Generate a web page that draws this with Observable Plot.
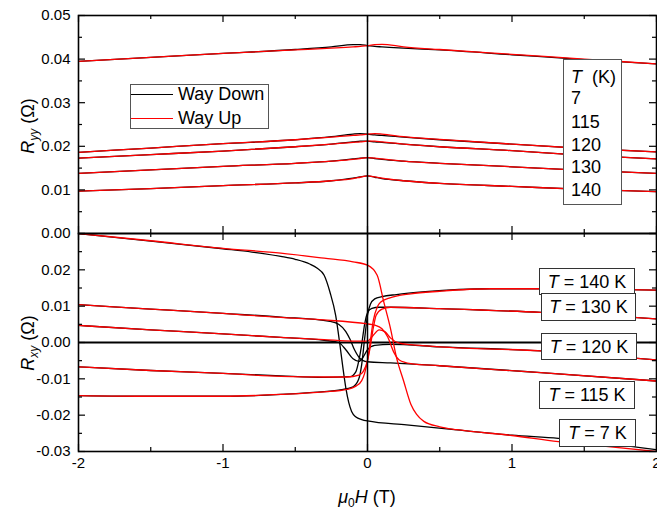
<!DOCTYPE html>
<html><head><meta charset="utf-8">
<script src="https://cdn.jsdelivr.net/npm/d3@7"></script>
<script src="https://cdn.jsdelivr.net/npm/@observablehq/plot@0.6"></script>
<style>
body{margin:0;background:#fff;}
#wrap{position:relative;width:657px;height:511px;overflow:hidden;font-family:"Liberation Sans",Arial,sans-serif;color:#000;background:#fff;}
#wrap svg{position:absolute;left:0;}
.box{position:absolute;background:#fff;box-sizing:border-box;}
.t{position:absolute;font-size:18px;line-height:18px;white-space:nowrap;}
.rot{position:absolute;font-size:18px;line-height:18px;white-space:nowrap;transform:translate(-50%,-50%) rotate(-90deg);}
sub{font-size:12px;vertical-align:-4px;line-height:0;}
</style></head><body><div id="wrap"></div>
<script>
// ---------- data ----------
const temps = ["7", "115", "120", "130", "140"];
const xTicks = [-2, -1, 0, 1, 2];
const xMinorTicks = [-1.5, -0.5, 0.5, 1.5];
const ryyTicks = [0, 0.01, 0.02, 0.03, 0.04, 0.05];
const ryyMinorTicks = [0.005, 0.015, 0.025, 0.035, 0.045];
const rxyTicks = [-0.03, -0.02, -0.01, 0, 0.01, 0.02];
const rxyAllTicks = [-0.03, -0.02, -0.01, 0, 0.01, 0.02, 0.03];
const rxyMinorTicks = [-0.025, -0.015, -0.005, 0.005, 0.015, 0.025];

// R_yy (top panel), common field grid
const ryyH = [-2, -1.5, -1, -0.5, -0.25, -0.1, -0.05, 0, 0.05, 0.1, 0.25, 0.5, 1, 1.5, 2];
const ryyDown7   = [0.0395, 0.0404, 0.0413, 0.0422, 0.0428, 0.0433, 0.0433, 0.0431, 0.0429, 0.0428, 0.0425, 0.0421, 0.0410, 0.0399, 0.0389];
const ryyUp7     = [0.0395, 0.0404, 0.0413, 0.0421, 0.0425, 0.0428, 0.0429, 0.0431, 0.0433, 0.0434, 0.0428, 0.0422, 0.0411, 0.0400, 0.0389];
const ryyDown115 = [0.0186, 0.0196, 0.0206, 0.0215, 0.0222, 0.0228, 0.0229, 0.0228, 0.0226, 0.0225, 0.0221, 0.0215, 0.0205, 0.0195, 0.0187];
const ryyUp115   = [0.0186, 0.0196, 0.0206, 0.0215, 0.0221, 0.0225, 0.0226, 0.0228, 0.0229, 0.0228, 0.0222, 0.0216, 0.0205, 0.0195, 0.0187];
const ryyDown120 = [0.0173, 0.0181, 0.0189, 0.0199, 0.0205, 0.0210, 0.0212, 0.0212, 0.0210, 0.0209, 0.0205, 0.0199, 0.0190, 0.0179, 0.0171];
const ryyUp120   = [0.0173, 0.0181, 0.0189, 0.0199, 0.0205, 0.0209, 0.0210, 0.0212, 0.0212, 0.0210, 0.0205, 0.0199, 0.0190, 0.0179, 0.0171];
const ryyDown130 = [0.0138, 0.0146, 0.0154, 0.0161, 0.0166, 0.0171, 0.0173, 0.0174, 0.0172, 0.0170, 0.0166, 0.0161, 0.0153, 0.0145, 0.0138];
const ryyUp130   = [0.0138, 0.0146, 0.0154, 0.0161, 0.0166, 0.0170, 0.0172, 0.0174, 0.0173, 0.0171, 0.0166, 0.0161, 0.0153, 0.0145, 0.0138];
const ryyDown140 = [0.0097, 0.0103, 0.0110, 0.0116, 0.0121, 0.0127, 0.0130, 0.0132, 0.0129, 0.0126, 0.0121, 0.0115, 0.0108, 0.0101, 0.0096];
const ryyUp140   = [0.0097, 0.0103, 0.0110, 0.0116, 0.0121, 0.0126, 0.0129, 0.0132, 0.0130, 0.0127, 0.0121, 0.0115, 0.0108, 0.0101, 0.0096];

// R_xy (bottom panel)
const rxyDown7H = [-2, -1.5, -1, -0.8, -0.6, -0.5, -0.4, -0.35, -0.3, -0.26, -0.22, -0.19, -0.17, -0.15, -0.13, -0.11, -0.08, -0.04, 0, 0.27, 0.6, 1, 1.32, 2];
const rxyDown7  = [0.0300, 0.0279, 0.0258, 0.0249, 0.0237, 0.0229, 0.0216, 0.0205, 0.0185, 0.0139, 0.0074, -0.0009, -0.0070, -0.0125, -0.0165, -0.0190, -0.0205, -0.0212, -0.0216, -0.0227, -0.0240, -0.0255, -0.0264, -0.0295];
const rxyUp7H = [-2, -1.5, -1, -0.6, -0.3, -0.1, 0, 0.067, 0.113, 0.16, 0.2, 0.25, 0.3, 0.34, 0.39, 0.5, 0.62, 1, 1.32, 1.6, 2];
const rxyUp7  = [0.0300, 0.0280, 0.0259, 0.0246, 0.0232, 0.0222, 0.0213, 0.0185, 0.0111, 0.0037, -0.0040, -0.0106, -0.0170, -0.0198, -0.0217, -0.0232, -0.0240, -0.0256, -0.0273, -0.0284, -0.0300];

const rxyDown115H = [-2, -1.5, -1, -0.6, -0.26, -0.2, -0.15, -0.12, -0.09, -0.06, -0.03, 0, 0.16, 0.5, 1.2, 2];
const rxyDown115  = [0.0104, 0.0092, 0.0080, 0.0070, 0.0058, 0.0050, 0.0030, 0.0008, -0.0020, -0.0040, -0.0050, -0.0053, -0.0056, -0.0064, -0.0083, -0.0106];
const rxyUp115H = [-2, -1.5, -1, -0.6, -0.3, 0, 0.05, 0.1, 0.14, 0.18, 0.22, 0.3, 0.5, 1.2, 2];
const rxyUp115  = [0.0104, 0.0092, 0.0080, 0.0069, 0.0062, 0.0051, 0.0048, 0.0038, 0.0015, -0.0025, -0.0048, -0.0058, -0.0064, -0.0083, -0.0106];

const rxyDown120H = [-2, -1.5, -1, -0.6, -0.3, -0.2, -0.15, -0.1, -0.06, -0.03, 0, 0.05, 0.16, 0.5, 1.2, 2];
const rxyDown120  = [0.0047, 0.0035, 0.0024, 0.0014, 0.0006, 0.0000, -0.0020, -0.0045, -0.0052, -0.0040, -0.0020, -0.0008, -0.0005, -0.0012, -0.0023, -0.0048];
const rxyUp120H = [-2, -1.5, -1, -0.6, -0.3, -0.1, 0, 0.04, 0.08, 0.12, 0.16, 0.22, 0.3, 0.5, 1.2, 2];
const rxyUp120  = [0.0047, 0.0035, 0.0024, 0.0014, 0.0008, 0.0004, 0.0004, 0.0020, 0.0035, 0.0030, 0.0012, -0.0002, -0.0006, -0.0012, -0.0023, -0.0048];

const rxyDown130H = [-2, -1.5, -1, -0.6, -0.3, -0.12, -0.08, -0.06, -0.04, -0.02, 0, 0.03, 0.08, 0.16, 0.5, 1.2, 2];
const rxyDown130  = [-0.0067, -0.0077, -0.0085, -0.0092, -0.0096, -0.0094, -0.0080, -0.0050, -0.0005, 0.0050, 0.0082, 0.0094, 0.0097, 0.0097, 0.0093, 0.0083, 0.0065];
const rxyUp130H = [-2, -1.5, -1, -0.6, -0.3, -0.14, -0.06, -0.03, 0, 0.02, 0.04, 0.06, 0.1, 0.16, 0.5, 1.2, 2];
const rxyUp130  = [-0.0067, -0.0077, -0.0085, -0.0093, -0.0095, -0.0095, -0.0090, -0.0080, -0.0050, -0.0010, 0.0040, 0.0075, 0.0092, 0.0097, 0.0093, 0.0083, 0.0065];

const rxyDown140H = [-2, -1.5, -1, -0.6, -0.4, -0.2, -0.1, -0.06, -0.04, -0.02, 0, 0.02, 0.05, 0.1, 0.2, 0.4, 0.85, 1.2, 1.6, 2];
const rxyDown140  = [-0.0146, -0.0148, -0.0148, -0.0143, -0.0138, -0.0131, -0.0122, -0.0100, -0.0060, 0.0010, 0.0075, 0.0105, 0.0120, 0.0126, 0.0132, 0.0140, 0.0148, 0.0148, 0.0147, 0.0144];
const rxyUp140H = [-2, -1.5, -1, -0.6, -0.3, -0.14, -0.08, -0.04, -0.02, 0, 0.02, 0.04, 0.07, 0.09, 0.15, 0.3, 0.5, 0.85, 1.2, 1.6, 2];
const rxyUp140  = [-0.0146, -0.0148, -0.0148, -0.0143, -0.0136, -0.0129, -0.0120, -0.0105, -0.0085, -0.0050, 0.0005, 0.0060, 0.0100, 0.0111, 0.0122, 0.0134, 0.0141, 0.0148, 0.0148, 0.0147, 0.0144];

const legendLabels = ["Way Down", "Way Up"];
const boxLabels = ["140", "130", "120", "115", "7"];

// ---------- build ----------
const W = 657, ML = 78, MR = 1, FH = 218;
const FW = W - ML - MR;
const FONT = "'Liberation Sans', Arial, sans-serif";
const pts = (H, V) => H.map((h, i) => ({H: h, V: V[i]}));
const line = (H, V, color) => Plot.line(pts(H, V), {x: "H", y: "V", stroke: color, strokeWidth: 1.3, curve: "monotone-x", clip: true});

function frameMarks(yMajor, yMinor) {
  const s = {stroke: "black", strokeWidth: 1.2};
  return [
    Plot.tickY(yMajor, {y: d => d, insetRight: FW - 7, ...s}),
    Plot.tickY(yMajor, {y: d => d, insetLeft: FW - 7, ...s}),
    Plot.tickY(yMinor, {y: d => d, insetRight: FW - 4, ...s}),
    Plot.tickY(yMinor, {y: d => d, insetLeft: FW - 4, ...s}),
    Plot.tickX(xTicks, {x: d => d, insetTop: FH - 7, ...s}),
    Plot.tickX(xTicks, {x: d => d, insetBottom: FH - 7, ...s}),
    Plot.tickX(xMinorTicks, {x: d => d, insetTop: FH - 4, ...s}),
    Plot.tickX(xMinorTicks, {x: d => d, insetBottom: FH - 4, ...s}),
    Plot.frame({stroke: "black", strokeWidth: 1.6})
  ];
}
const fmt = d => d.toFixed(2);
const style = {background: "transparent", fontFamily: FONT, fontSize: "15px", color: "black", overflow: "visible"};

const ryyDown = [ryyDown7, ryyDown115, ryyDown120, ryyDown130, ryyDown140];
const ryyUp = [ryyUp7, ryyUp115, ryyUp120, ryyUp130, ryyUp140];

const topPlot = Plot.plot({
  width: W, height: 240, marginTop: 15, marginBottom: 7, marginLeft: ML, marginRight: MR,
  style,
  x: {domain: [-2, 2], axis: null},
  y: {domain: [0, 0.05]},
  marks: [
    ...ryyDown.map(v => line(ryyH, v, "black")),
    ...ryyUp.map(v => line(ryyH, v, "#ff0000")),
    Plot.ruleX([0], {stroke: "black", strokeWidth: 1.5}),
    ...frameMarks(ryyTicks, ryyMinorTicks),
    Plot.axisY({ticks: ryyTicks, tickSize: 0, tickPadding: 8, tickFormat: fmt, fontSize: 15, label: null})
  ]
});

const bottomPlot = Plot.plot({
  width: W, height: 285, marginTop: 7, marginBottom: 60, marginLeft: ML, marginRight: MR,
  style,
  x: {domain: [-2, 2]},
  y: {domain: [-0.03, 0.03]},
  marks: [
    Plot.ruleY([0], {stroke: "black", strokeWidth: 2}),
    line(rxyDown7H, rxyDown7, "black"),
    line(rxyDown115H, rxyDown115, "black"),
    line(rxyDown120H, rxyDown120, "black"),
    line(rxyDown130H, rxyDown130, "black"),
    line(rxyDown140H, rxyDown140, "black"),
    line(rxyUp7H, rxyUp7, "#ff0000"),
    line(rxyUp115H, rxyUp115, "#ff0000"),
    line(rxyUp120H, rxyUp120, "#ff0000"),
    line(rxyUp130H, rxyUp130, "#ff0000"),
    line(rxyUp140H, rxyUp140, "#ff0000"),
    Plot.ruleX([0], {stroke: "black", strokeWidth: 1.5}),
    ...frameMarks(rxyAllTicks, rxyMinorTicks),
    Plot.axisY({ticks: rxyTicks, tickSize: 0, tickPadding: 8, tickFormat: fmt, fontSize: 15, label: null}),
    Plot.axisX({ticks: xTicks, tickSize: 0, tickPadding: 6, tickFormat: d => String(d), fontSize: 15, label: null})
  ]
});

const wrap = document.getElementById("wrap");
bottomPlot.style.top = "226px";
topPlot.style.top = "0px";
wrap.appendChild(bottomPlot);
wrap.appendChild(topPlot);

function el(cls, css, html) {
  const d = document.createElement("div");
  d.className = cls;
  d.style.cssText = css;
  d.innerHTML = html;
  wrap.appendChild(d);
  return d;
}
// axis titles
el("rot", "left:28px;top:126px;", "<i>R</i><sub><i>yy</i></sub> (Ω)");
el("rot", "left:28px;top:343px;", "<i>R</i><sub><i>xy</i></sub> (Ω)");
el("t", "left:0;width:734px;text-align:center;top:488px;", "<i>μ</i><sub>0</sub><i>H</i> (T)");

// legend
el("box", "left:130px;top:84px;width:139px;height:45px;border:1.2px solid #555;", "");
el("box", "left:131px;top:93.6px;width:42px;height:1.4px;background:#000;", "");
el("box", "left:131px;top:117.6px;width:42px;height:1.4px;background:#f00;", "");
el("t", "left:178px;top:85px;", legendLabels[0]);
el("t", "left:178px;top:109px;", legendLabels[1]);

// temperature list box
el("box", "left:563px;top:59px;width:59px;height:146px;border:1.5px solid #555;", "");
el("t", "left:571px;top:68px;", "<i>T</i>&nbsp;&nbsp;(K)");
const listY = [89, 112.5, 136, 158, 180.5];
temps.forEach((t, i) => el("t", `left:571px;top:${listY[i]}px;`, t));

// curve labels in bottom panel
const boxGeom = [
  [539, 268, 96, 27],
  [541, 293, 95, 28],
  [541, 333, 96, 27],
  [539, 381, 96, 28],
  [559, 419, 77, 28]
];
boxLabels.forEach((t, i) => {
  const [x, y, w, h] = boxGeom[i];
  el("box", `left:${x}px;top:${y}px;width:${w}px;height:${h}px;border:1.5px solid #333;`, "");
  el("t", `left:${x}px;width:${w}px;text-align:center;top:${y + h / 2 - 9}px;`, `<i>T</i> = ${t} K`);
});
</script></body></html>
